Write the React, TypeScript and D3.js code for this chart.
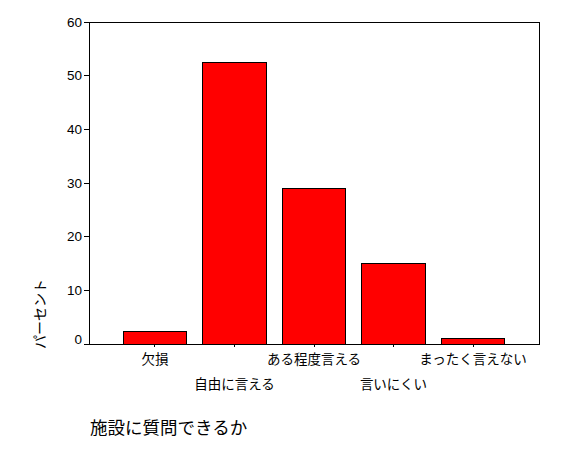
import React from "react";
import * as d3 from "d3";

const categories = ["欠損", "自由に言える", "ある程度言える", "言いにくい", "まったく言えない"];
const values = [2.4, 52.4, 29.0, 15.0, 1.1];
const yTicks = [0, 10, 20, 30, 40, 50, 60];
const xTitle = "施設に質問できるか";
const yTitle = "パーセント";

const W = 562, H = 449;
const left = 89, right = 539, top = 22, bottom = 344;
const jp = "'Noto Sans CJK JP', 'Noto Sans', sans-serif";
const num = "'Liberation Sans', Arial, sans-serif";

export default function App() {
  const x = d3.scaleBand<string>().domain(categories).range([left, right]).paddingInner(0.2).paddingOuter(0.43);
  const y = d3.scaleLinear().domain([0, 60]).range([bottom, top]);
  return (
    <svg width={W} height={H} style={{ position: "absolute", left: 0, top: 0, background: "#fff" }} shapeRendering="crispEdges">
      <rect x={0} y={0} width={W} height={H} fill="#fff" />
      {categories.map((c, i) => (
        <rect key={c} x={x(c)} y={y(values[i])} width={x.bandwidth()} height={y(0) - y(values[i])}
          fill="#ff0000" stroke="#000" strokeWidth={1} />
      ))}
      <rect x={left} y={top} width={right - left} height={bottom - top} fill="none" stroke="#000" strokeWidth={1} />
      {yTicks.map((t) => (
        <g key={t}>
          <line x1={left - 5} x2={left} y1={y(t)} y2={y(t)} stroke="#000" />
          <text x={left - 7} y={y(t) - (t === 0 ? 5 : 0)} dy="0.35em" textAnchor="end" fontFamily={num} fontSize={13.5} fill="#000">{t}</text>
        </g>
      ))}
      {categories.map((c, i) => {
        const cx = (x(c) as number) + x.bandwidth() / 2;
        return (
          <g key={c}>
            <line x1={cx} x2={cx} y1={bottom} y2={bottom + 3} stroke="#000" />
            <text x={cx} y={i % 2 === 0 ? 359 : 384} dy="0.35em" textAnchor="middle" fontFamily={jp} fontSize={13.5} fill="#000">{c}</text>
          </g>
        );
      })}
      <text x={90} y={428} dy="0.35em" fontFamily={jp} fontSize={17.5} fill="#000">{xTitle}</text>
      <text transform={`translate(40,314) rotate(-90)`} textAnchor="middle" dy="0.35em" fontFamily={jp} fontSize={14} fill="#000">{yTitle}</text>
    </svg>
  );
}
